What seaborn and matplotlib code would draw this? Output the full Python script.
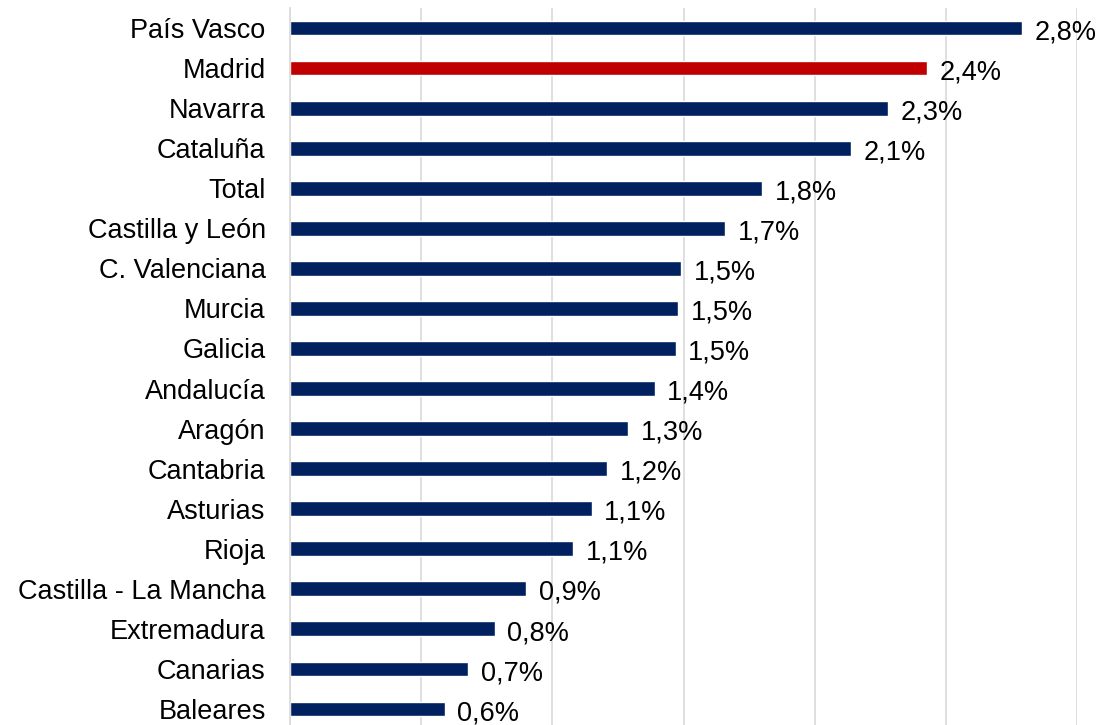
import matplotlib
matplotlib.use("Agg")
import matplotlib.pyplot as plt
import seaborn as sns
import pandas as pd

regions = ["País Vasco", "Madrid", "Navarra", "Cataluña", "Total", "Castilla y León",
           "C. Valenciana", "Murcia", "Galicia", "Andalucía", "Aragón", "Cantabria",
           "Asturias", "Rioja", "Castilla - La Mancha", "Extremadura", "Canarias", "Baleares"]
values = [2.79, 2.43, 2.28, 2.14, 1.80, 1.66, 1.49, 1.48, 1.47, 1.39, 1.29, 1.21,
          1.15, 1.08, 0.90, 0.78, 0.68, 0.59]
highlight = "Madrid"

NAVY = "#002060"
RED = "#C00000"

sns.set_theme(style="white")
plt.rcParams['font.family'] = ['Liberation Sans', 'DejaVu Sans']

df = pd.DataFrame({"region": regions, "value": values})
palette = {r: (RED if r == highlight else NAVY) for r in regions}

fig = plt.figure(figsize=(10.96, 7.25), dpi=100)
ax = fig.add_axes([290/1096, 0.0, (1077-290)/1096, 1 - 8/725])

sns.barplot(data=df, y="region", x="value", hue="region", palette=palette,
            order=regions, width=0.37, legend=False, ax=ax, saturation=1)

ax.set_xlim(0, 3.0)
ax.set_ylim(17.4, -0.5)
ax.set_xticks([0, 0.5, 1.0, 1.5, 2.0, 2.5, 3.0])
ax.xaxis.grid(True, color="#d9d9d9", linewidth=1.2)
ax.set_axisbelow(True)
ax.tick_params(axis="x", bottom=False, labelbottom=False)
ax.tick_params(axis="y", left=False, labelsize=19.5, pad=11.5, colors="black")
for s in ["top", "right", "bottom"]:
    ax.spines[s].set_visible(False)
ax.spines["left"].set_color("#d9d9d9")
ax.spines["left"].set_linewidth(1.2)
ax.set_xlabel("")
ax.set_ylabel("")

for i, v in enumerate(values):
    ax.annotate(f"{v:.1f}%".replace(".", ","), xy=(v, i), xytext=(9, -3),
                textcoords="offset points", ha="left", va="center",
                fontsize=19.5, color="black")

fig.savefig("out.png", dpi=100)
